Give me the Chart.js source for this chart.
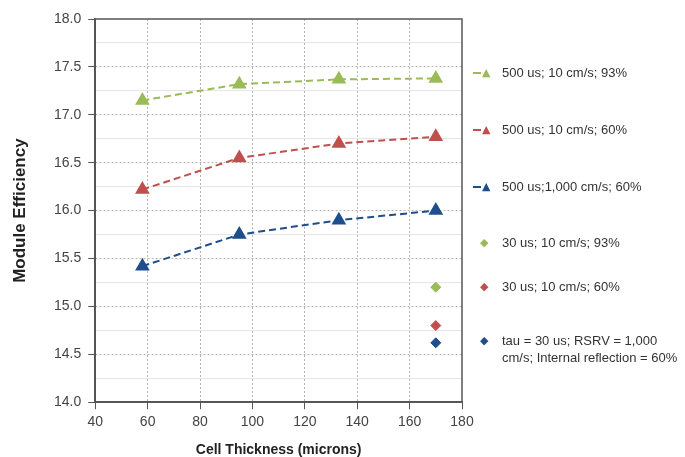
<!DOCTYPE html>
<html>
<head>
<meta charset="utf-8">
<script src="https://cdn.jsdelivr.net/npm/chart.js@4"></script>
<style>
  body { margin: 0; background: #fff; }
  #wrap { position: relative; width: 685px; height: 457px; }
  #legend { position: absolute; left: 470px; top: 0; width: 215px; height: 457px;
            font-family: "Liberation Sans", Arial, sans-serif; font-size: 13px; color: #333; }
  .item { position: absolute; left: 0; display: flex; align-items: flex-start; line-height: 17px; white-space: nowrap; }
  .mark { width: 32px; flex: none; position: relative; height: 17px; }
  .dash { position: absolute; left: 3px; top: 8px; width: 8px; height: 2px; }
  .sym { position: absolute; top: 0; font-family: "DejaVu Sans", sans-serif; font-size: 11px; line-height: 17px; }
</style>
</head>
<body>
<div id="wrap">
  <canvas id="chart" width="685" height="457"></canvas>
  <div id="legend"></div>
</div>
<script>
// Cell thickness (microns) for the simulated curves
const thickness = [58, 95, 133, 170];

// Module efficiency for each tau / RSRV / reflection case
const eff500us10cm93 = [17.15, 17.32, 17.37, 17.38];
const eff500us10cm60 = [16.22, 16.55, 16.70, 16.77];
const eff500us1000cm60 = [15.42, 15.75, 15.90, 16.00];

// single-point cases at 170 microns
const singleThickness = [170];
const eff30us10cm93 = [15.20];
const eff30us10cm60 = [14.80];
const eff30us1000cm60 = [14.62];

const labels = [
    '500 us; 10 cm/s; 93%',
    '500 us; 10 cm/s; 60%',
    '500 us;1,000 cm/s; 60%',
    '30 us; 10 cm/s; 93%',
    '30 us; 10 cm/s; 60%',
    ['tau = 30 us; RSRV = 1,000', 'cm/s; Internal reflection = 60%']
];

const xTicks = [40, 60, 80, 100, 120, 140, 160, 180];
const yTicks = [14.0, 14.5, 15.0, 15.5, 16.0, 16.5, 17.0, 17.5, 18.0];

const GREEN = '#9bbb59';
const RED = '#c0504d';
const BLUE = '#1f4e8c';
const FONT = '"Liberation Sans", Arial, sans-serif';

function toPoints(xs, ys) {
    return xs.map((x, i) => ({ x, y: ys[i] }));
}

function curve(label, ys, color) {
    return {
        label,
        data: toPoints(thickness, ys),
        borderColor: color,
        backgroundColor: color,
        borderDash: [7, 4],
        borderWidth: 2,
        pointStyle: 'triangle',
        pointRadius: 6.5,
        showLine: true
    };
}

function single(label, ys, color) {
    return {
        label,
        data: toPoints(singleThickness, ys),
        borderColor: color,
        backgroundColor: color,
        pointStyle: 'rectRot',
        pointRadius: 5,
        showLine: false
    };
}

const datasets = [
    curve(labels[0], eff500us10cm93, GREEN),
    curve(labels[1], eff500us10cm60, RED),
    curve(labels[2], eff500us1000cm60, BLUE),
    single(labels[3], eff30us10cm93, GREEN),
    single(labels[4], eff30us10cm60, RED),
    single(labels[5], eff30us1000cm60, BLUE)
];

const isMajor = (v, step) => Math.abs(v / step - Math.round(v / step)) < 1e-6;

// draws the frame round the plot area
const frame = {
    id: 'frame',
    afterDraw(chart) {
        const { ctx, chartArea: a } = chart;
        ctx.save();
        ctx.strokeStyle = '#555';
        ctx.lineWidth = 1.5;
        ctx.strokeRect(a.left, a.top, a.right - a.left, a.bottom - a.top);
        ctx.restore();
    }
};

new Chart(document.getElementById('chart'), {
    type: 'scatter',
    data: { datasets },
    options: {
        responsive: false,
        animation: false,
        layout: { padding: { top: 19, right: 223, left: 10, bottom: 0 } },
        plugins: { legend: { display: false }, tooltip: { enabled: false } },
        scales: {
            x: {
                type: 'linear',
                min: 40, max: 180,
                ticks: {
                    stepSize: 10,
                    color: '#444',
                    font: { family: FONT, size: 14 },
                    maxRotation: 0,
                    autoSkip: false,
                    padding: 5,
                    callback: v => xTicks.includes(v) ? String(v) : null
                },
                grid: {
                    color: c => isMajor(c.tick.value, 20) && c.tick.value > 40 && c.tick.value < 180 ? '#b5b5b5' : 'rgba(0,0,0,0)',
                    tickColor: '#555',
                    tickLength: 7,
                    lineWidth: 1
                },
                border: { color: '#555', width: 1.5, dash: [2, 2] },
                title: {
                    display: true,
                    text: 'Cell Thickness (microns)',
                    color: '#222',
                    font: { family: FONT, size: 14, weight: 'bold', lineHeight: 1 },
                    padding: { top: 7, bottom: 0 }
                }
            },
            y: {
                min: 14, max: 18,
                ticks: {
                    stepSize: 0.25,
                    color: '#444',
                    font: { family: FONT, size: 14 },
                    autoSkip: false,
                    padding: 7,
                    callback: v => yTicks.some(t => Math.abs(t - v) < 1e-6) ? v.toFixed(1) : null
                },
                grid: {
                    color: c => isMajor(c.tick.value, 0.5) && c.tick.value > 14 && c.tick.value < 18 ? '#b5b5b5' : 'rgba(0,0,0,0)',
                    tickColor: '#555',
                    tickLength: 7,
                    lineWidth: 1
                },
                border: { color: '#555', width: 1.5, dash: [2, 2] },
                title: {
                    display: true,
                    text: 'Module Efficiency',
                    color: '#222',
                    font: { family: FONT, size: 17, weight: 'bold', lineHeight: 1 },
                    padding: { top: 2, bottom: 18 }
                }
            },
            yMinor: {
                position: 'left',
                min: 14, max: 18,
                ticks: { stepSize: 0.25, display: false },
                grid: {
                    color: c => isMajor(c.tick.value, 0.5) ? 'rgba(0,0,0,0)' : '#e6e6e6',
                    drawTicks: false,
                    lineWidth: 1
                },
                border: { display: false }
            }
        }
    },
    plugins: [frame]
});

// legend at the right, built from the dataset list
const legendTop = [64, 121, 178, 234, 278, 332];
const legend = document.getElementById('legend');
datasets.forEach((ds, i) => {
    const item = document.createElement('div');
    item.className = 'item';
    item.style.top = legendTop[i] + 'px';
    const mark = document.createElement('span');
    mark.className = 'mark';
    if (ds.showLine) {
        const dash = document.createElement('span');
        dash.className = 'dash';
        dash.style.background = ds.borderColor;
        mark.appendChild(dash);
    }
    const sym = document.createElement('span');
    sym.className = 'sym';
    sym.style.color = ds.borderColor;
    sym.style.left = ds.showLine ? '12px' : '10px';
    sym.textContent = ds.showLine ? '▲' : '◆';
    mark.appendChild(sym);
    const text = document.createElement('span');
    text.innerHTML = [].concat(ds.label).join('<br>');
    item.appendChild(mark);
    item.appendChild(text);
    legend.appendChild(item);
});
</script>
</body>
</html>
